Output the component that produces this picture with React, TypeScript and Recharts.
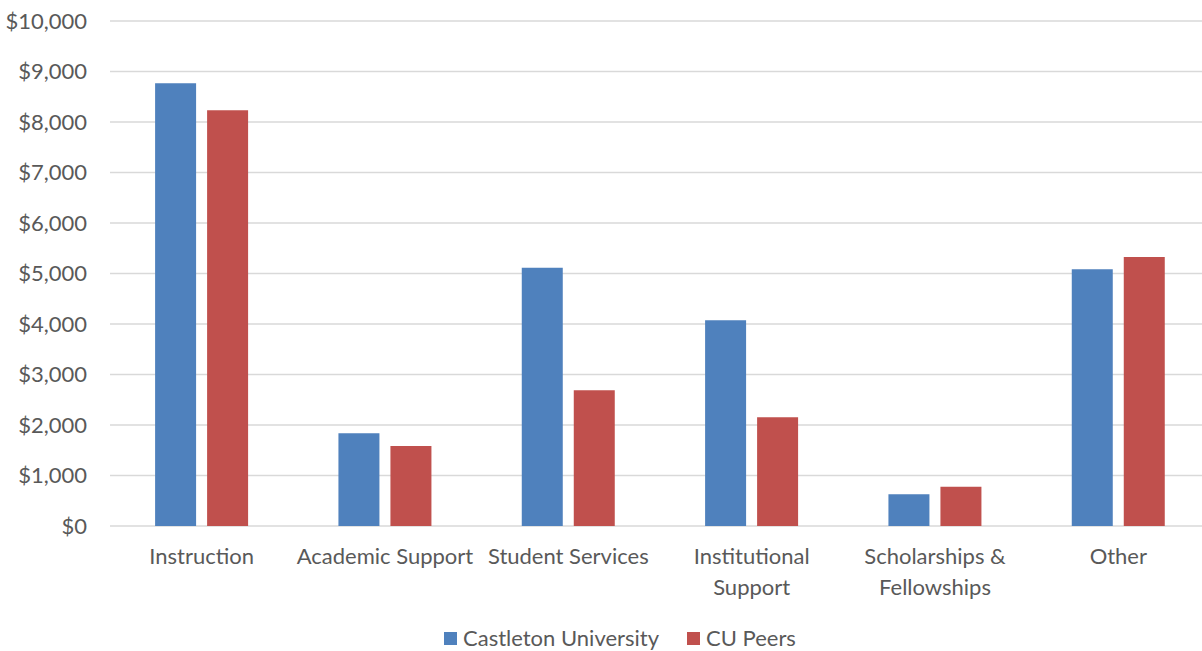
import { BarChart, Bar, XAxis, YAxis, CartesianGrid, Legend } from "recharts";

const CATEGORIES = [
  "Instruction",
  "Academic Support",
  "Student Services",
  "Institutional\nSupport",
  "Scholarships &\nFellowships",
  "Other",
];
const CASTLETON = [8766, 1835, 5115, 4073, 627, 5083];
const PEERS = [8231, 1584, 2687, 2152, 779, 5327];
const Y_TICKS = [0, 1000, 2000, 3000, 4000, 5000, 6000, 7000, 8000, 9000, 10000];

const BLUE = "#4F81BD";
const RED = "#C0504D";
const TEXT = "#595959";
const FONT = "Lato, 'Open Sans', sans-serif";
const FONT_SIZE = 22;

const data = CATEGORIES.map((name, i) => ({
  name,
  castleton: CASTLETON[i],
  peers: PEERS[i],
}));

const money = (v: number) => "$" + v.toLocaleString("en-US");

function CategoryTick(props: any) {
  const { x, y, payload } = props;
  const lines = String(payload.value).split("\n");
  return (
    <text x={x} y={y} textAnchor="middle" fill={TEXT} fontSize={FONT_SIZE} fontFamily={FONT}>
      {lines.map((line, i) => (
        <tspan key={i} x={x} dy={i === 0 ? 30 : 31}>
          {line}
        </tspan>
      ))}
    </text>
  );
}

function LegendContent() {
  const items = [
    { label: "Castleton University", color: BLUE },
    { label: "CU Peers", color: RED },
  ];
  return (
    <div style={{ display: "flex", fontFamily: FONT, fontSize: FONT_SIZE, lineHeight: "22px", color: TEXT }}>
      {items.map((it) => (
        <div key={it.label} style={{ display: "flex", alignItems: "center", marginRight: 28 }}>
          <span style={{ width: 13, height: 13, background: it.color, marginRight: 6 }} />
          <span>{it.label}</span>
        </div>
      ))}
    </div>
  );
}

export default function App() {
  return (
    <div style={{ position: "absolute", left: 0, top: 0, width: 1202, height: 651, overflow: "hidden", background: "#fff" }}>
      <BarChart
        width={1202}
        height={651}
        data={data}
        margin={{ top: 21, right: -8, bottom: 95, left: 0 }}
        barCategoryGap="24.6%"
        barGap={11}
      >
        <CartesianGrid vertical={false} stroke="#d9d9d9" strokeWidth={1.5} />
        <YAxis
          domain={[0, 10000]}
          ticks={Y_TICKS}
          tickFormatter={money}
          width={110}
          axisLine={false}
          tickLine={false}
          tickSize={0}
          tickMargin={23}
          tick={{ fill: TEXT, fontSize: FONT_SIZE, fontFamily: FONT }}
        />
        <XAxis
          dataKey="name"
          axisLine={false}
          tickLine={false}
          interval={0}
          height={30}
          tick={<CategoryTick />}
        />
        <Bar dataKey="castleton" name="Castleton University" fill={BLUE} isAnimationActive={false} />
        <Bar dataKey="peers" name="CU Peers" fill={RED} isAnimationActive={false} />
        <Legend
          layout="horizontal"
          verticalAlign="middle"
          content={<LegendContent />}
          wrapperStyle={{ top: 627, left: 444, width: "auto" }}
        />
      </BarChart>
    </div>
  );
}
